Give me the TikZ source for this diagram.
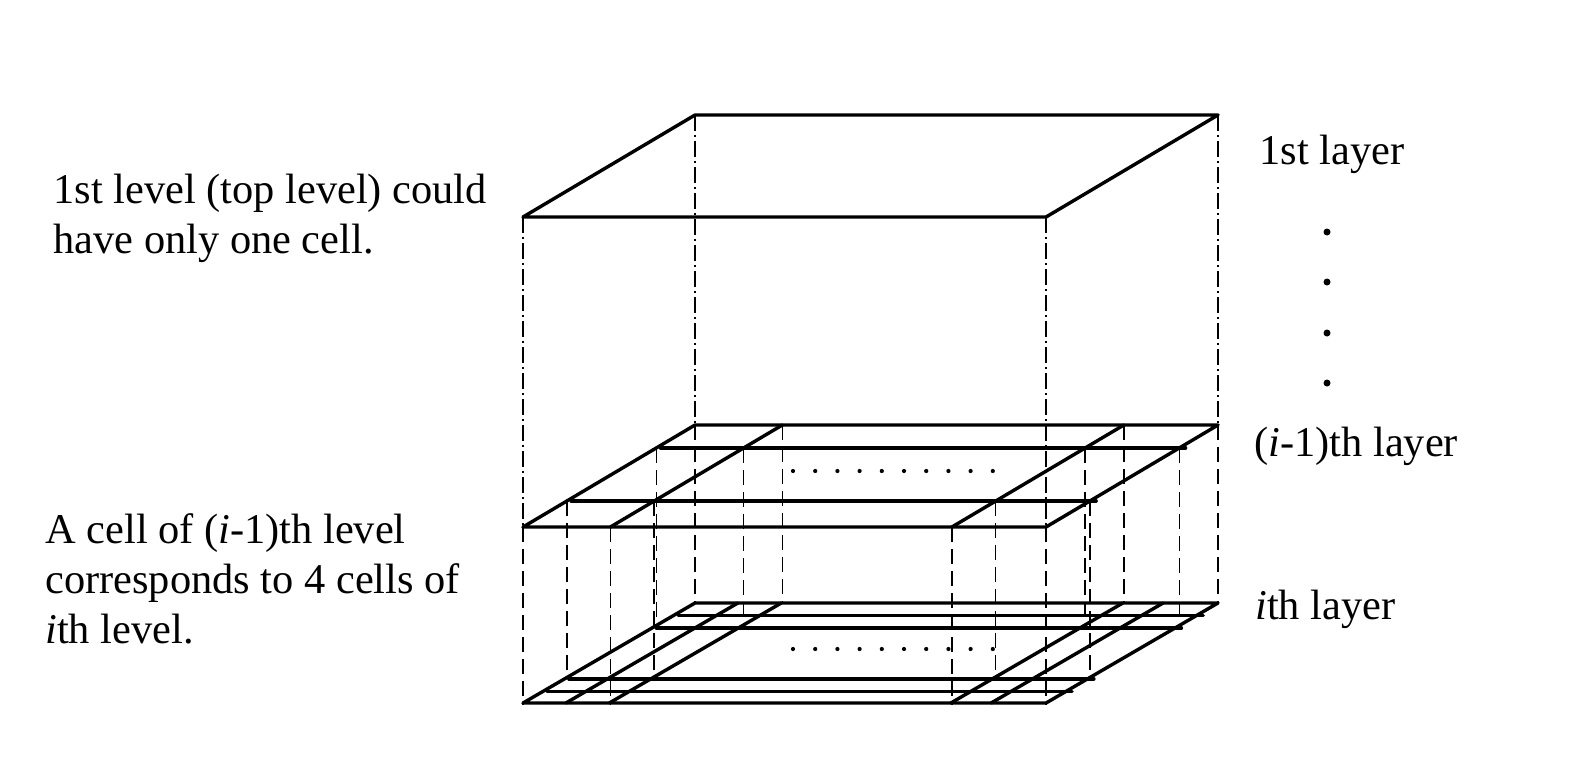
\documentclass[tikz,border=0pt]{standalone}
\usepackage{fontspec}
\setmainfont{Liberation Serif}
\begin{document}
\begin{tikzpicture}[x=0.5pt,y=-0.5pt,
  thickline/.style={line width=1.7pt, line cap=round, line join=round},
  vdash/.style={line width=0.75pt, dash pattern=on 7.5pt off 3.5pt},
  ddot/.style={line width=0.75pt, dash pattern=on 8pt off 2pt on 1pt off 2pt},
  lbl/.style={anchor=base west, inner sep=0pt, font=\fontsize{21.2}{25}\selectfont}]
\useasboundingbox[fill=white] (0,0) rectangle (1588,756);

% dash-dotted lines from top layer to (i-1)th layer
\draw[ddot] (695,115) -- (695,425);
\draw[ddot] (1218,115) -- (1218,425);
\draw[ddot] (523,217) -- (523,527);
\draw[ddot] (1046,217) -- (1046,527);

% dashed lines from (i-1)th layer to ith layer
\foreach \u in {0,0.167,0.82,1}{
  \foreach \v in {0,0.225,0.745,1}{
    \draw[vdash] ({695+523*\u-172*\v},{425+102*\v}) -- ++(0,178);
  }
}

% top layer
\begin{scope}[shift={(695,115)}, x={(261.5pt,0pt)}, y={(-86pt,-51pt)}]
  \draw[thickline] (0,0) -- (1,0) -- (1,1) -- (0,1) -- cycle;
\end{scope}

% (i-1)th layer
\begin{scope}[shift={(695,425)}, x={(261.5pt,0pt)}, y={(-86pt,-51pt)}]
  \draw[thickline] (0,0) -- (1,0) -- (1,1) -- (0,1) -- cycle;
  \draw[thickline] (0.008,0.225) -- (1.012,0.225);
  \draw[thickline] (0.008,0.745) -- (1.012,0.745);
  \draw[thickline] (0.167,0) -- (0.167,1);
  \draw[thickline] (0.82,0) -- (0.82,1);
\end{scope}

% ith layer
\begin{scope}[shift={(695,603)}, x={(261.5pt,0pt)}, y={(-86pt,-50pt)}]
  \draw[thickline] (0,0) -- (1,0) -- (1,1) -- (0,1) -- cycle;
  \foreach \v in {0.122,0.249,0.758,0.885}{
    \draw[thickline] (0.008,\v) -- (1.012,\v);
  }
  \foreach \u in {0.082,0.165,0.818,0.895}{
    \draw[thickline] (\u,0) -- (\u,1);
  }
\end{scope}

% dotted rows inside the grids
\foreach \i in {0,...,9}{
  \fill ({793+22.2*\i},471) circle[radius=1.05pt];
  \fill ({793+22.2*\i},649) circle[radius=1.05pt];
}

% vertical dots on the right
\foreach \y in {232,282,333,383}{
  \fill (1327,\y) circle[radius=1.75pt];
}

% labels
\node[lbl] (t1a) at (53,203) {1st level (top level) could};
\node[lbl] (t1b) at (53,253) {have only one cell.};
\node[lbl] (t2a) at (45,543) {A cell of (\textit{i}-1)th level};
\node[lbl] (t2b) at (45,593) {corresponds to 4 cells of};
\node[lbl] (t2c) at (45,643) {\textit{i}th level.};
\node[lbl] (r1) at (1259,164) {1st layer};
\node[lbl] (r2) at (1254,456) {(\textit{i}-1)th layer};
\node[lbl] (r3) at (1255,619) {\textit{i}th layer};
\end{tikzpicture}
\end{document}
